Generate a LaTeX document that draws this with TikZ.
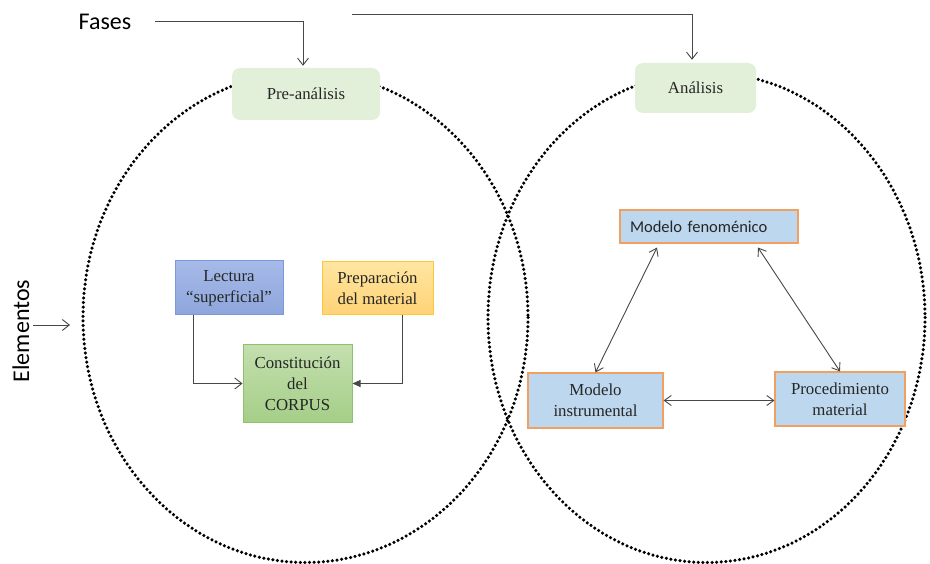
\documentclass[tikz,border=0pt]{standalone}
\usepackage{fontspec}
\setmainfont{Liberation Serif}
\newfontfamily\calib{Carlito}
\usetikzlibrary{arrows.meta,shapes.geometric}

\definecolor{ink}{HTML}{262626}
\definecolor{phasefill}{HTML}{E2F0D9}
\definecolor{lecttop}{HTML}{A6BAE8}
\definecolor{lectbot}{HTML}{8EA6DC}
\definecolor{lectline}{HTML}{7A98DC}
\definecolor{preptop}{HTML}{FFE6A0}
\definecolor{prepbot}{HTML}{FFD276}
\definecolor{prepline}{HTML}{FFC63A}
\definecolor{corptop}{HTML}{C3DFAE}
\definecolor{corpbot}{HTML}{A5CE88}
\definecolor{corpline}{HTML}{8DC16C}
\definecolor{modfill}{HTML}{BDD7EE}
\definecolor{modline}{HTML}{F0A060}

\tikzset{
  phase/.style={rounded corners=8pt, fill=phasefill, draw=none, inner sep=0pt,
    font=\fontsize{16.8}{20}\selectfont, text=ink},
  ring/.style={draw=black, line width=3.5pt, line cap=round,
    dash pattern=on 0pt off 4.6pt},
  stepbox/.style={inner sep=0pt, align=center, text=ink,
    font=\fontsize{16.8}{21}\selectfont},
  modelbox/.style={stepbox, fill=modfill, draw=modline, line width=1.1pt},
  link/.style={draw=ink!85, line width=0.9pt},
  openhead/.style={-{Straight Barb[length=7pt,width=11pt]}},
  twohead/.style={{Straight Barb[length=7pt,width=10pt]}-{Straight Barb[length=7pt,width=10pt]}},
  sidelabel/.style={font=\calib\fontsize{24}{28}\selectfont, text=black, inner sep=0pt}
}

\begin{document}
\begin{tikzpicture}[x=1pt,y=-1pt]
\useasboundingbox (0,0) rectangle (930,564);

% the two overlapping dotted rings
\draw[ring] (305.5,317.5) ellipse [x radius=222.5, y radius=245];
\draw[ring] (706.5,317.5) ellipse [x radius=218.5, y radius=245];

% phase boxes
\node[phase, minimum width=148pt, minimum height=52pt] (pre) at (306,94) {Pre-análisis};
\node[phase, minimum width=121pt, minimum height=50pt] (ana) at (695.5,88) {Análisis};

% side labels
\node[sidelabel] (fases) at (105,22) {Fases};
\node[sidelabel, rotate=90] (elem) at (21,331) {Elementos};

\coordinate (fa) at (155,21);
\coordinate (fb) at (352,14);
\coordinate (ea) at (33,325);
\coordinate (eb) at (70,325);

\draw[link, openhead] (fa) -| ([xshift=-3pt,yshift=2pt]pre.north);
\draw[link, openhead] (fb) -| ([xshift=-3.5pt,yshift=3pt]ana.north);
\draw[link, openhead] (ea) -- (eb);

% first phase: building the corpus
\node[stepbox, minimum width=108pt, minimum height=54pt, draw=lectline, line width=1pt,
      top color=lecttop, bottom color=lectbot] (lect) at (229,288)
      {Lectura\\``superficial''};
\node[stepbox, minimum width=111pt, minimum height=53pt, draw=prepline, line width=1pt,
      top color=preptop, bottom color=prepbot] (prep) at (377.5,288.5)
      {Preparación\\del material};
\node[stepbox, minimum width=109pt, minimum height=77pt, draw=corpline, line width=1pt,
      top color=corptop, bottom color=corpbot] (corp) at (297.5,383.5)
      {Constitución\\del\\CORPUS};

\draw[link, openhead] ([xshift=-36pt]lect.south) |- (corp.west);
\draw[link, -{Triangle[length=8pt,width=7pt]}] ([xshift=24.5pt]prep.south) |- (corp.east);

% second phase: the three models
\node[modelbox, minimum height=33pt, inner xsep=10pt, text width=158pt, align=left,
      font=\calib\fontsize{16.5}{20}\selectfont] (fen) at (709,226.5) {Modelo fenoménico};
\node[modelbox, minimum width=135pt, minimum height=55pt] (inst) at (595.5,400.5)
      {Modelo\\instrumental};
\node[modelbox, minimum width=130pt, minimum height=54pt] (proc) at (840,399)
      {Procedimiento\\material};

\draw[link, twohead] ([xshift=-52pt,yshift=-4pt]fen.south) -- (inst.north);
\draw[link, twohead] ([xshift=49pt,yshift=-4pt]fen.south) -- (proc.north);
\draw[link, twohead] (inst.east) -- (inst.east -| proc.west);
\end{tikzpicture}
\end{document}
